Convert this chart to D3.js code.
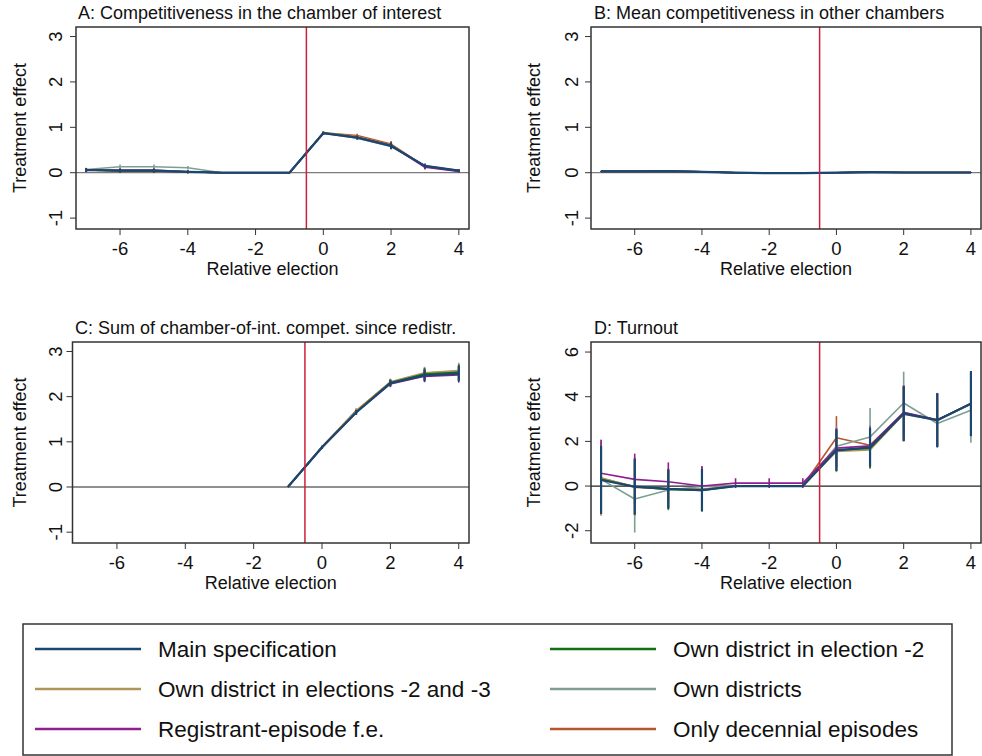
<!DOCTYPE html>
<html>
<head>
<meta charset="utf-8">
<script src="https://cdn.jsdelivr.net/npm/d3@7"></script>
<style>
  body { margin: 0; background: #fff; }
  svg { display: block; font-family: "Liberation Sans", Arial, Helvetica, sans-serif; }
</style>
</head>
<body>
<svg id="chart" width="982" height="756"></svg>
<script>
// relative election index (x axis)
const relElection = [-7, -6, -5, -4, -3, -2, -1, 0, 1, 2, 3, 4]

// series, in the order they are drawn (main spec last, on top)
const seriesNames = ['Only decennial episodes', 'Own districts', 'Own district in elections -2 and -3',
  'Own district in election -2', 'Registrant-episode f.e.', 'Main specification']
const seriesColors = ['#b4562e', '#7e9e94', '#ad9657', '#127012', '#8f1f8f', '#1a476f']

// A: competitiveness in the chamber of interest (point estimates, one row per series)
const estA = [
  [0.06, 0.04, 0.04, 0.02, 0, 0, 0, 0.88, 0.82, 0.63, 0.14, 0.04],
  [0.07, 0.13, 0.13, 0.11, 0, 0, 0, 0.87, 0.76, 0.58, 0.15, 0.05],
  [0.06, 0.05, 0.05, 0.02, 0, 0, 0, 0.88, 0.79, 0.61, 0.14, 0.04],
  [0.06, 0.04, 0.04, 0.02, 0, 0, 0, 0.88, 0.78, 0.60, 0.14, 0.04],
  [0.05, 0.06, 0.06, 0.02, 0, 0, 0, 0.87, 0.78, 0.60, 0.12, 0.03],
  [0.06, 0.045, 0.045, 0.02, 0, 0, 0, 0.87, 0.77, 0.59, 0.15, 0.045]
]
const ciA = [
  [0.04, 0.04, 0.04, 0.03, 0, 0, 0, 0.03, 0.04, 0.07, 0.05, 0.03],
  [0.04, 0.05, 0.05, 0.04, 0, 0, 0, 0.03, 0.04, 0.07, 0.05, 0.03],
  [0.04, 0.04, 0.04, 0.03, 0, 0, 0, 0.03, 0.04, 0.07, 0.05, 0.03],
  [0.04, 0.04, 0.04, 0.03, 0, 0, 0, 0.03, 0.04, 0.07, 0.05, 0.03],
  [0.04, 0.04, 0.04, 0.03, 0, 0, 0, 0.03, 0.04, 0.07, 0.05, 0.03],
  [0.04, 0.04, 0.04, 0.03, 0, 0, 0, 0.03, 0.04, 0.07, 0.05, 0.03]
]

// B: mean competitiveness in other chambers
const estB = [
  [0.03, 0.03, 0.03, 0.02, 0, -0.01, -0.01, 0, 0.01, 0.005, 0.005, 0.005],
  [0.035, 0.035, 0.035, 0.02, 0, -0.01, -0.005, 0, 0.015, 0.005, 0.005, 0.005],
  [0.03, 0.03, 0.035, 0.02, 0, -0.01, -0.01, 0, 0.015, 0.005, 0.005, 0.005],
  [0.03, 0.03, 0.035, 0.02, 0, -0.01, -0.01, 0, 0.015, 0.005, 0.005, 0.005],
  [0.03, 0.03, 0.03, 0.02, 0, -0.01, -0.01, 0, 0.01, 0.005, 0.005, 0.005],
  [0.03, 0.03, 0.035, 0.02, 0, -0.01, -0.01, 0, 0.015, 0.005, 0.005, 0.005]
]
const ciB = [
  [0.01, 0.01, 0.01, 0.01, 0, 0, 0, 0, 0.01, 0.01, 0.01, 0.01],
  [0.01, 0.01, 0.01, 0.01, 0, 0, 0, 0, 0.01, 0.01, 0.01, 0.01],
  [0.01, 0.01, 0.01, 0.01, 0, 0, 0, 0, 0.01, 0.01, 0.01, 0.01],
  [0.01, 0.01, 0.01, 0.01, 0, 0, 0, 0, 0.01, 0.01, 0.01, 0.01],
  [0.01, 0.01, 0.01, 0.01, 0, 0, 0, 0, 0.01, 0.01, 0.01, 0.01],
  [0.01, 0.01, 0.01, 0.01, 0, 0, 0, 0, 0.01, 0.01, 0.01, 0.01]
]

// C: sum of chamber-of-interest competitiveness since redistricting (starts at -1)
const estC = [
  [null, null, null, null, null, null, 0, 0.89, 1.69, 2.32, 2.50, 2.54],
  [null, null, null, null, null, null, 0, 0.88, 1.66, 2.31, 2.52, 2.56],
  [null, null, null, null, null, null, 0, 0.89, 1.68, 2.33, 2.53, 2.58],
  [null, null, null, null, null, null, 0, 0.88, 1.66, 2.31, 2.50, 2.54],
  [null, null, null, null, null, null, 0, 0.87, 1.65, 2.28, 2.45, 2.48],
  [null, null, null, null, null, null, 0, 0.88, 1.65, 2.30, 2.47, 2.51]
]
const ciC = [
  [null, null, null, null, null, null, 0, 0.03, 0.05, 0.07, 0.13, 0.17],
  [null, null, null, null, null, null, 0, 0.03, 0.05, 0.07, 0.13, 0.17],
  [null, null, null, null, null, null, 0, 0.03, 0.05, 0.07, 0.13, 0.17],
  [null, null, null, null, null, null, 0, 0.03, 0.05, 0.07, 0.13, 0.17],
  [null, null, null, null, null, null, 0, 0.03, 0.05, 0.07, 0.13, 0.17],
  [null, null, null, null, null, null, 0, 0.03, 0.05, 0.07, 0.13, 0.17]
]

// D: turnout
const estD = [
  [0.35, -0.02, -0.12, -0.15, 0, 0, 0, 2.16, 1.83, 3.28, 2.95, 3.69],
  [0.30, -0.58, -0.18, -0.02, 0, 0, 0, 1.78, 2.20, 3.72, 2.80, 3.39],
  [0.37, -0.06, -0.13, -0.15, 0, 0, 0, 1.55, 1.62, 3.22, 2.95, 3.70],
  [0.30, -0.03, -0.15, -0.20, 0, 0, 0, 1.62, 1.68, 3.25, 2.96, 3.70],
  [0.57, 0.30, 0.19, 0.00, 0.13, 0.13, 0.13, 1.70, 1.80, 3.30, 2.97, 3.68],
  [0.27, -0.03, -0.13, -0.18, 0, 0, 0, 1.60, 1.73, 3.24, 2.95, 3.69]
]
const ciD = [
  [1.60, 1.30, 0.90, 0.95, 0, 0, 0, 0.97, 0.90, 1.25, 1.20, 1.45],
  [1.60, 1.50, 0.90, 0.90, 0, 0, 0, 0.90, 1.30, 1.40, 1.10, 1.45],
  [1.70, 1.25, 0.88, 0.95, 0, 0, 0, 0.93, 0.86, 1.23, 1.20, 1.45],
  [1.50, 1.25, 0.90, 0.95, 0, 0, 0, 0.93, 0.87, 1.23, 1.20, 1.45],
  [1.50, 1.15, 0.87, 0.90, 0.22, 0.22, 0.22, 0.90, 0.85, 1.20, 1.20, 1.45],
  [1.52, 1.25, 0.87, 0.94, 0, 0, 0, 0.93, 0.86, 1.23, 1.20, 1.45]
]

// legend order (two columns, row by row)
const legendOrder = ['Main specification', 'Own district in election -2',
  'Own district in elections -2 and -3', 'Own districts',
  'Registrant-episode f.e.', 'Only decennial episodes']

const xTicks = [-6, -4, -2, 0, 2, 4]
const ticksAC = [-1, 0, 1, 2, 3]
const ticksD = [-2, 0, 2, 4, 6]

const svg = d3.select('svg#chart')

function drawPanel(p) {
  const x = d3.scaleLinear().domain([-7.3, 4.3]).range([p.left, p.right])
  const y = d3.scaleLinear().domain(p.yDomain).range([p.bottom, p.top])
  const g = svg.append('g')

  // y axis ticks + rotated labels
  p.yTicks.forEach(t => {
    g.append('line').attr('x1', p.left - 6).attr('x2', p.left)
      .attr('y1', y(t)).attr('y2', y(t)).attr('stroke', '#333').attr('stroke-width', 1)
    g.append('text').attr('transform', `translate(${p.labelX},${y(t)}) rotate(-90)`)
      .attr('text-anchor', 'middle').attr('font-size', 18.5).attr('fill', '#111').text(t)
  })
  g.append('text')
    .attr('transform', `translate(${p.titleX},${(p.top + p.bottom) / 2}) rotate(-90)`)
    .attr('text-anchor', 'middle').attr('font-size', 18).attr('fill', '#111')
    .text('Treatment effect')

  // x axis
  xTicks.forEach(t => {
    g.append('line').attr('x1', x(t)).attr('x2', x(t))
      .attr('y1', p.bottom).attr('y2', p.bottom + 6).attr('stroke', '#333').attr('stroke-width', 1)
    g.append('text').attr('x', x(t)).attr('y', p.bottom + 26)
      .attr('text-anchor', 'middle').attr('font-size', 18.5).attr('fill', '#111').text(t)
  })
  g.append('text').attr('x', (p.left + p.right) / 2).attr('y', p.bottom + 46)
    .attr('text-anchor', 'middle').attr('font-size', 18).attr('fill', '#111')
    .text('Relative election')

  g.append('text').attr('x', p.titleLeft).attr('y', p.top - 8)
    .attr('font-size', 18).attr('fill', '#111').text(p.title)

  // zero line
  g.append('line').attr('x1', p.left).attr('x2', p.right)
    .attr('y1', y(0)).attr('y2', y(0)).attr('stroke', p.zeroColor).attr('stroke-width', 1.2)

  // series: CI spikes then line
  const line = d3.line()
    .defined(d => d.v != null)
    .x(d => x(d.x)).y(d => y(d.v))

  p.est.forEach((row, si) => {
    const col = seriesColors[si]
    const w = si === p.est.length - 1 ? 2.2 : 1.6
    const pts = row.map((v, i) => ({ x: relElection[i], v: v, h: p.ci[si][i] }))
    g.append('g').selectAll('line')
      .data(pts.filter(d => d.v != null && d.h > 0))
      .enter().append('line')
        .attr('x1', d => x(d.x)).attr('x2', d => x(d.x))
        .attr('y1', d => y(d.v - d.h)).attr('y2', d => y(d.v + d.h))
        .attr('stroke', col).attr('stroke-width', w)
    g.append('path').datum(pts).attr('d', line)
      .attr('fill', 'none').attr('stroke', col).attr('stroke-width', w)
      .attr('stroke-linejoin', 'round')
  })

  // red reference line at -0.5
  g.append('line').attr('x1', x(-0.5)).attr('x2', x(-0.5))
    .attr('y1', p.top).attr('y2', p.bottom).attr('stroke', '#d11f3a').attr('stroke-width', 1.5)

  // frame
  g.append('rect').attr('x', p.left).attr('y', p.top)
    .attr('width', p.right - p.left).attr('height', p.bottom - p.top)
    .attr('fill', 'none').attr('stroke', '#333').attr('stroke-width', 1.5)
}

drawPanel({ title: 'A: Competitiveness in the chamber of interest', left: 76, right: 469, top: 27, bottom: 229,
  yDomain: [-1.24, 3.21], yTicks: ticksAC, labelX: 62, titleX: 26, titleLeft: 78,
  zeroColor: '#7a7a7a', est: estA, ci: ciA })
drawPanel({ title: 'B: Mean competitiveness in other chambers', left: 591, right: 981, top: 27, bottom: 229,
  yDomain: [-1.24, 3.21], yTicks: ticksAC, labelX: 578, titleX: 540, titleLeft: 594,
  zeroColor: '#7a7a7a', est: estB, ci: ciB })
drawPanel({ title: 'C: Sum of chamber-of-int. compet. since redistr.', left: 72.5, right: 469, top: 342, bottom: 543,
  yDomain: [-1.24, 3.21], yTicks: ticksAC, labelX: 62, titleX: 26, titleLeft: 75,
  zeroColor: '#222', est: estC, ci: ciC })
drawPanel({ title: 'D: Turnout', left: 591, right: 981, top: 342, bottom: 543,
  yDomain: [-2.55, 6.45], yTicks: ticksD, labelX: 578, titleX: 540, titleLeft: 594,
  zeroColor: '#222', est: estD, ci: ciD })

// legend
const legend = svg.append('g')
legend.append('rect').attr('x', 23).attr('y', 624).attr('width', 929).attr('height', 131)
  .attr('fill', '#fff').attr('stroke', '#333').attr('stroke-width', 1.5)
legendOrder.forEach((name, i) => {
  const col = seriesColors[seriesNames.indexOf(name)]
  const cx = i % 2 === 0 ? 35 : 550
  const cy = 649 + Math.floor(i / 2) * 40
  legend.append('line').attr('x1', cx).attr('x2', cx + 106)
    .attr('y1', cy).attr('y2', cy).attr('stroke', col).attr('stroke-width', 2.5)
  legend.append('text').attr('x', cx + 123).attr('y', cy + 8)
    .attr('font-size', 22.5).attr('fill', '#111').text(name)
})
</script>
</body>
</html>
